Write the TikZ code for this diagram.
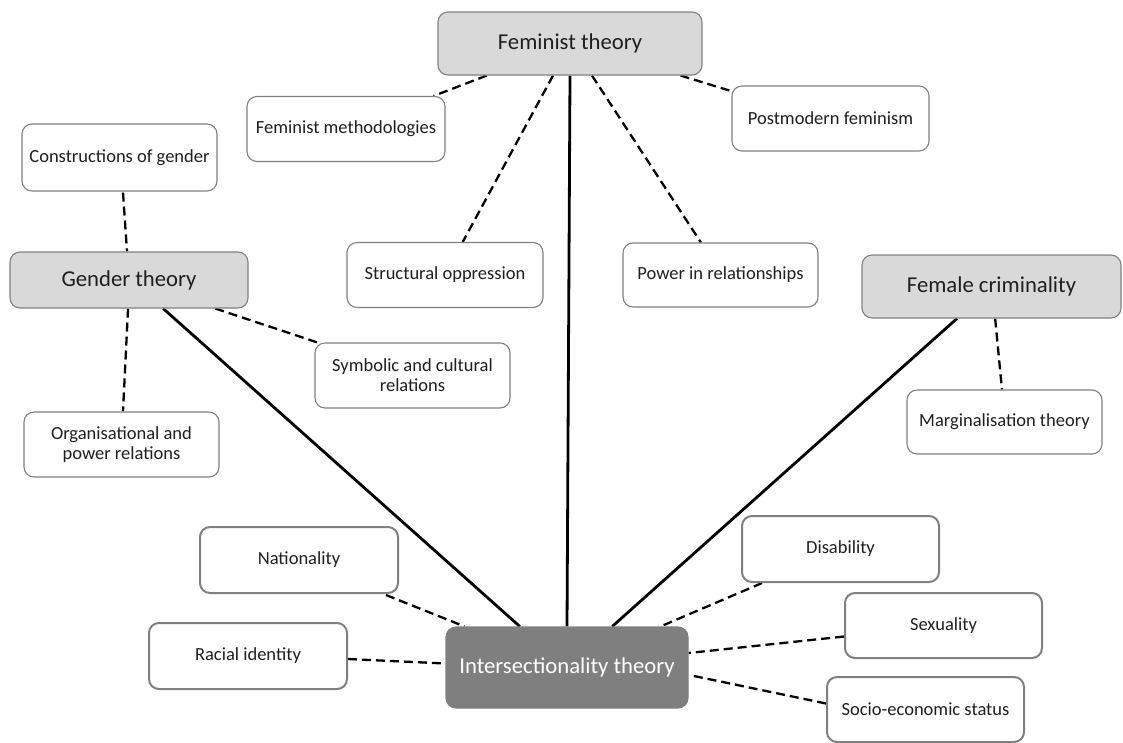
\documentclass[tikz,border=0pt]{standalone}
\usepackage{fontspec}
\setmainfont{Carlito}
\usetikzlibrary{calc}
\definecolor{boxline}{HTML}{808080}
\definecolor{headfill}{HTML}{D9D9D9}
\definecolor{corefill}{HTML}{7F7F7F}
\definecolor{ink}{HTML}{1F1F1F}
\pgfdeclarelayer{background}
\pgfsetlayers{background,main}
\begin{document}
\begin{tikzpicture}[x=1pt,y=-1pt,
  topic/.style={draw=boxline, line width=1.1pt, rounded corners=10pt, fill=white,
    text=ink, align=center, inner sep=0pt,
    font=\fontsize{18.5}{20}\selectfont},
  item/.style={topic, line width=2pt},
  theory/.style={topic, fill=headfill, font=\fontsize{22.7}{26}\selectfont},
  core/.style={theory, fill=corefill, draw=corefill, text=white},
  link/.style={line width=2.8pt, black},
  aside/.style={line width=2.3pt, black, dash pattern=on 9pt off 5pt},
]
\useasboundingbox (0,0) rectangle (1123,742);

% theory boxes
\node[theory, minimum width=264pt, minimum height=63pt] (fem)   at (570,43.5)  {Feminist theory};
\node[theory, minimum width=238pt, minimum height=56pt] (gen)   at (129,280)   {Gender theory};
\node[theory, minimum width=259pt, minimum height=63pt] (fcrim) at (991.5,286.5) {Female criminality};
\node[core,   minimum width=242pt, minimum height=81pt] (inter) at (567,667.5) {Intersectionality theory};

% concept boxes
\node[topic, minimum width=198pt, minimum height=65pt] (meth)   at (346,129)    {Feminist methodologies};
\node[topic, minimum width=197pt, minimum height=65pt] (post)   at (830.5,118.5) {Postmodern feminism};
\node[topic, minimum width=195pt, minimum height=67pt] (cons)   at (119.5,157.5) {Constructions of gender};
\node[topic, minimum width=196pt, minimum height=65pt] (struct) at (445,275)    {Structural oppression};
\node[topic, minimum width=195pt, minimum height=64pt] (power)  at (720.5,275)  {Power in relationships};
\node[topic, minimum width=195pt, minimum height=65pt] (symb)   at (412.5,375.5) {Symbolic and cultural\\relations};
\node[topic, minimum width=195pt, minimum height=65pt] (org)    at (121.5,444.5) {Organisational and\\power relations};
\node[topic, minimum width=195pt, minimum height=64pt] (marg)   at (1004.5,422) {Marginalisation theory};

% intersecting identities
\node[item, minimum width=198pt, minimum height=66pt] (nat)   at (299,560)    {Nationality};
\node[item, minimum width=198pt, minimum height=66pt] (race)  at (248,656)    {Racial identity};
\node[item, minimum width=197pt, minimum height=66pt] (dis)   at (840.5,549)  {Disability};
\node[item, minimum width=197pt, minimum height=65pt] (sex)   at (943.5,625.5) {Sexuality};
\node[item, minimum width=197pt, minimum height=65pt] (socio) at (925.5,709.5) {Socio-economic status};

\begin{pgfonlayer}{background}
% main theory links
\draw[link] (fem.south) -- (inter.north);
\draw[link] ($(gen.south west)!0.643!(gen.south east)$) -- ($(inter.north west)!0.306!(inter.north east)$);
\draw[link] ($(fcrim.south west)!0.367!(fcrim.south east)$) -- ($(inter.north west)!0.686!(inter.north east)$);

% feminist theory branches
\draw[aside] ($(fem.south west)!0.186!(fem.south east)$) -- ($(meth.north east)+(-12,0)$);
\draw[aside] ($(fem.south west)!0.436!(fem.south east)$) -- ($(struct.north west)!0.59!(struct.north east)$);
\draw[aside] ($(fem.south west)!0.583!(fem.south east)$) -- ($(power.north west)!0.40!(power.north east)$);
\draw[aside] ($(fem.south west)!0.917!(fem.south east)$) -- ($(post.north west)+(1,6)$);

% gender theory branches
\draw[aside] ($(cons.south)+(3.5,1)$) -- ($(gen.north)+(-2,0)$);
\draw[aside] ($(gen.south west)!0.496!(gen.south east)$) -- ($(org.north)+(1.5,0)$);
\draw[aside] ($(gen.south west)!0.861!(gen.south east)$) -- ($(symb.north west)+(3,0)$);

% female criminality branch
\draw[aside] ($(fcrim.south west)!0.514!(fcrim.south east)$) -- ($(marg.north west)!0.487!(marg.north east)$);

% intersecting identities
\draw[aside] ($(nat.south east)+(-13,1)$) -- ($(inter.north west)+(19,0)$);
\draw[aside] ($(race.east)+(0,3)$) -- ($(inter.west)+(0,-4)$);
\draw[aside] ($(dis.south west)+(21,0)$) -- ($(inter.north east)+(-28,0)$);
\draw[aside] ($(sex.west)+(0,11)$) -- ($(inter.east)+(0,-14.5)$);
\draw[aside] ($(socio.west)+(0,-6)$) -- ($(inter.east)+(3,8)$);
\end{pgfonlayer}
\end{tikzpicture}
\end{document}
